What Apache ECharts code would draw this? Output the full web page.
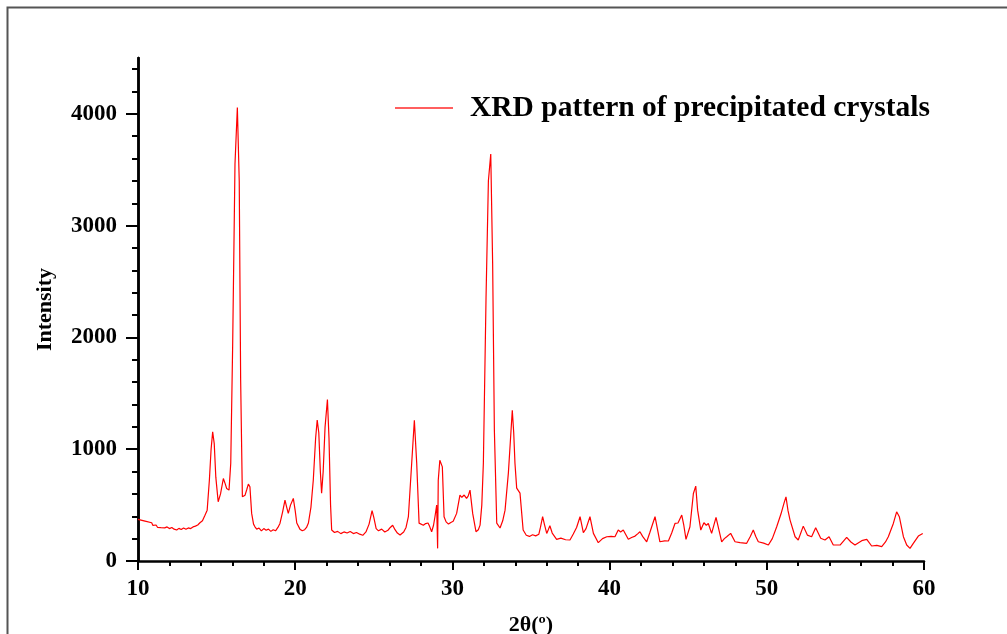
<!DOCTYPE html>
<html>
<head>
<meta charset="utf-8">
<script src="https://cdn.jsdelivr.net/npm/echarts@6/dist/echarts.min.js"></script>
<style>
html,body{margin:0;padding:0;background:#fff;}
#chart{width:1007px;height:634px;}
</style>
</head>
<body>
<div id="chart"></div>
<script>
// 2θ positions (degrees)
const twoTheta = [
10.0,10.45,10.87,10.95,11.05,11.15,11.25,11.35,11.45,11.55,11.7,11.85,12.0,12.15,12.3,12.46,12.6,12.75,12.9,13.05,13.2,13.35,13.5,13.65,13.8,13.94,
14.1,14.26,14.4,14.54,14.65,14.75,14.85,14.95,15.1,15.25,15.43,15.55,15.64,15.79,15.9,16.02,16.17,16.32,16.44,16.53,16.64,16.72,16.81,16.92,17.02,17.12,17.23,17.35,17.44,
17.55,17.7,17.85,18.0,18.15,18.3,18.45,18.6,18.75,18.9,19.03,19.2,19.35,19.46,19.56,19.7,19.88,20.0,20.1,20.3,20.45,20.6,20.72,20.84,21.0,21.15,21.3,21.4,21.5,21.6,21.68,
21.78,21.9,22.05,22.15,22.25,22.32,22.5,22.7,22.9,23.1,23.3,23.5,23.7,23.9,24.1,24.3,24.5,24.7,24.89,25.0,25.15,25.3,25.5,25.7,25.9,26.05,26.2,26.35,26.5,26.67,26.9,27.05,
27.2,27.41,27.58,27.73,27.88,28.0,28.15,28.3,28.45,28.55,28.68,28.8,28.89,29.0,29.06,29.1,29.2,29.36,29.47,29.6,29.75,29.9,30.05,30.15,30.27,30.48,30.6,30.75,30.9,31.0,
31.12,31.29,31.5,31.65,31.76,31.87,31.97,32.14,32.29,32.44,32.56,32.67,32.82,33.03,33.2,33.35,33.56,33.7,33.81,33.9,33.98,34.09,34.2,34.3,34.5,34.7,34.9,35.1,35.3,35.5,
35.6,35.74,35.85,36.0,36.1,36.2,36.35,36.63,36.9,37.2,37.48,37.69,37.9,38.12,38.33,38.5,38.75,38.97,39.28,39.55,39.82,40.1,40.34,40.55,40.7,40.87,41.19,41.4,41.62,41.8,
41.93,42.1,42.36,42.55,42.68,42.89,43.05,43.2,43.5,43.74,43.95,44.16,44.35,44.59,44.72,44.86,45.11,45.33,45.48,45.6,45.8,46.0,46.15,46.28,46.49,46.77,46.95,47.13,47.3,
47.45,47.7,47.98,48.3,48.72,48.95,49.14,49.3,49.46,49.8,50.1,50.35,50.63,50.9,51.1,51.22,51.35,51.48,51.8,52.0,52.32,52.58,52.85,53.11,53.43,53.7,53.96,54.23,54.66,
55.08,55.35,55.61,56.04,56.36,56.67,57.0,57.31,57.55,57.73,58.05,58.26,58.43,58.69,58.9,59.11,59.32,59.64,59.92
];
// intensities (counts)
const intensity = [
372,357,342,318,305,322,300,315,298,312,296,305,290,300,285,277,292,282,295,284,296,290,305,312,322,342,
360,410,455,723,1000,1155,1050,750,530,600,738,690,649,634,875,1914,3554,4057,3402,1616,574,560,589,640,688,664,426,330,306,
285,295,270,290,275,285,265,280,270,300,336,440,545,480,426,500,560,450,340,285,270,280,300,340,480,723,1100,1260,1150,800,607,
800,1200,1445,1100,500,277,255,265,245,260,250,264,245,255,240,230,260,330,450,390,290,270,285,260,275,300,320,280,250,232,260,300,
396,874,1259,874,339,330,320,335,340,310,262,320,396,500,113,723,902,842,396,350,330,345,355,370,426,589,570,590,560,580,
634,426,262,280,321,500,874,2360,3402,3641,2661,1170,339,295,360,455,786,1100,1348,1150,874,652,640,607,277,230,220,235,225,240,
300,396,330,247,280,315,250,194,205,190,188,241,300,396,253,290,396,247,164,200,217,220,217,277,260,277,194,210,223,245,
262,220,172,250,306,396,280,172,180,179,250,336,340,411,320,194,306,604,670,455,277,342,320,336,247,390,280,172,200,
217,247,172,165,158,220,277,220,172,160,143,200,306,420,520,574,450,366,217,188,312,232,217,297,203,188,217,143,143,
212,170,143,182,194,134,140,128,170,217,336,440,396,217,143,113,158,223,247
];
const xTickLabels = [10, 20, 30, 40, 50, 60];
const yTickLabels = [0, 1000, 2000, 3000, 4000];
const yMinorTicks = [200,400,600,800,1200,1400,1600,1800,2200,2400,2600,2800,3200,3400,3600,3800,4200,4400];
const seriesName = 'XRD pattern of precipitated crystals';

const FONT = '"Liberation Serif", "Times New Roman", serif';
const data = twoTheta.map((t, i) => [t, intensity[i]]);
const plain = v => String(v);

const chart = echarts.init(document.getElementById('chart'), null, {renderer: 'canvas'});
chart.setOption({
  animation: false,
  backgroundColor: '#ffffff',
  grid: {left: 138, right: 83, top: 58, bottom: 73, containLabel: false, outerBoundsMode: 'none'},
  legend: {
    left: 395, top: 93, padding: 0,
    icon: 'rect', itemWidth: 58, itemHeight: 1.5, itemGap: 10,
    textStyle: {fontFamily: FONT, fontWeight: 'bold', fontSize: 29.5, color: '#000', padding: [0, 0, 0, 12]},
    data: [{name: seriesName, itemStyle: {color: '#ff2a2a'}}]
  },
  xAxis: {
    type: 'value', min: 10, max: 60, interval: 10,
    name: '2θ(º)', nameLocation: 'middle', nameGap: 53,
    nameTextStyle: {fontFamily: FONT, fontWeight: 'bold', fontSize: 22, color: '#000'},
    axisLine: {show: true, onZero: false, lineStyle: {color: '#000', width: 2.5}},
    axisTick: {show: true, inside: false, length: 9, lineStyle: {color: '#000', width: 2}},
    minorTick: {show: true, splitNumber: 5, length: 5, lineStyle: {color: '#000', width: 2}},
    axisLabel: {fontFamily: FONT, fontWeight: 'bold', fontSize: 23, color: '#000', margin: 17,
      customValues: xTickLabels, formatter: plain},
    splitLine: {show: false}, minorSplitLine: {show: false}
  },
  yAxis: [{
    type: 'value', min: 0, max: 4500, interval: 1000, position: 'left',
    name: 'Intensity', nameLocation: 'middle', nameGap: 82,
    nameTextStyle: {fontFamily: FONT, fontWeight: 'bold', fontSize: 22, color: '#000'},
    axisLine: {show: true, onZero: false, lineStyle: {color: '#000', width: 2.5}},
    axisTick: {show: true, inside: false, length: 12, customValues: yTickLabels, lineStyle: {color: '#000', width: 2}},
    axisLabel: {fontFamily: FONT, fontWeight: 'bold', fontSize: 23, color: '#000', margin: 21,
      customValues: yTickLabels, formatter: plain},
    splitLine: {show: false}
  }, {
    type: 'value', min: 0, max: 4500, interval: 1000, position: 'left',
    axisLine: {show: true, onZero: false, lineStyle: {color: '#000', width: 2.5}},
    axisTick: {show: true, inside: false, length: 6, customValues: yMinorTicks, lineStyle: {color: '#000', width: 2}},
    axisLabel: {show: false},
    splitLine: {show: false}
  }],
  graphic: [{
    type: 'polyline', silent: true,
    shape: {points: [[7.5, 640], [7.5, 7.5], [1010, 7.5]]},
    style: {stroke: '#555', lineWidth: 2, fill: null}
  }],
  series: [{
    name: seriesName, type: 'line', data: data,
    showSymbol: false, symbol: 'none', smooth: false,
    lineStyle: {color: '#ff0000', width: 1.2},
    itemStyle: {color: '#ff0000'},
    xAxisIndex: 0, yAxisIndex: 0
  }]
});
</script>
</body>
</html>
